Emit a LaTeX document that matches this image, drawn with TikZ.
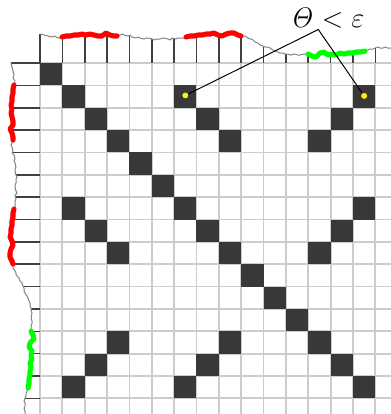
\documentclass[tikz,border=0pt]{standalone}
\usepackage{tikz}
\usetikzlibrary{positioning, calc}
\usepackage{xcolor}

\tikzset{
  cell/.style={fill=black!78},
  gridline/.style={gray!40, line width=0.9pt},
  sigtick/.style={black!75, line width=0.8pt},
  sigline/.style={gray, line width=0.5pt, line join=round},
  sigred/.style={red, line width=2.6pt, line join=round, line cap=round},
  siggreen/.style={green, line width=2.6pt, line join=round, line cap=round},
  ydot/.style={circle, fill=yellow, draw=black!80, line width=0.4pt, inner sep=0pt, minimum size=3.6pt},
  lbl/.style={font=\fontsize{15}{18}\selectfont}
}

% one series, drawn along the top axis (mirrored for the left one)
\newcommand{\drawsignal}{%
  \foreach \k/\a in {0/1.30, 1/1.16, 2/1.27, 3/1.32, 4/1.19, 5/1.08, 6/1.10, 7/1.24,
                     8/1.24, 9/1.22, 10/0.74, 11/0.40, 12/0.40, 13/0.39, 14/0.46, 15/0.67}
    \draw[sigtick] (\k,0) -- (\k,-\a);
  \begin{scope}[scale=0.04474]
    \draw[sigline] (0,-29) -- (4,-28) -- (8,-27) -- (12,-26) -- (15,-27) -- (18,-25) -- (22,-26)
      -- (26,-27) -- (30,-27) -- (34,-28) -- (38,-28) -- (42,-29) -- (46,-28) -- (50,-29)
      -- (54,-28) -- (58,-27) -- (62,-27) -- (66,-30) -- (70,-28) -- (74,-27) -- (77,-27)
      -- (80,-28) -- (82,-29) -- (84,-28) -- (88,-27) -- (90,-28) -- (92,-26) -- (96,-25)
      -- (98,-26) -- (100,-25) -- (104,-24) -- (106,-25) -- (108,-25) -- (112,-24) -- (114,-23)
      -- (116,-24) -- (120,-24) -- (122,-25) -- (124,-25) -- (128,-24) -- (130,-23) -- (132,-25)
      -- (136,-24) -- (138,-25) -- (140,-25) -- (144,-25) -- (146,-26) -- (150,-27) -- (154,-27)
      -- (158,-28) -- (162,-28) -- (166,-29) -- (170,-29) -- (174,-30) -- (178,-28) -- (182,-27)
      -- (186,-29) -- (190,-30) -- (194,-30) -- (198,-28) -- (201,-27) -- (205,-27) -- (208,-25)
      -- (210,-24) -- (212,-24) -- (215,-21) -- (218,-20) -- (220,-18) -- (223,-17) -- (225,-16)
      -- (228,-16) -- (230,-15) -- (233,-13) -- (235,-12) -- (238,-11) -- (240,-10) -- (243,-10)
      -- (245,-9) -- (248,-9) -- (250,-8) -- (255,-9) -- (258,-8) -- (260,-8) -- (264,-9)
      -- (268,-9) -- (272,-7) -- (276,-6) -- (280,-10) -- (284,-11) -- (288,-8) -- (292,-9)
      -- (296,-8) -- (300,-10) -- (304,-9) -- (308,-10) -- (312,-10) -- (316,-11) -- (320,-11)
      -- (325,-12) -- (328,-13) -- (330,-14) -- (333,-14) -- (335,-15) -- (338,-16) -- (340,-15)
      -- (343,-15) -- (345,-16) -- (348,-15) -- (351,-15);
    \draw[sigred] (22,-26) -- (26,-27) -- (30,-27) -- (34,-28) -- (38,-28) -- (42,-29) -- (46,-28)
      -- (50,-29) -- (54,-28) -- (58,-27) -- (62,-27) -- (66,-30) -- (70,-28) -- (74,-27) -- (77,-27);
    \draw[sigred] (146,-26) -- (150,-27) -- (154,-27) -- (158,-28) -- (162,-28) -- (166,-29)
      -- (170,-29) -- (174,-30) -- (178,-28) -- (182,-27) -- (186,-29) -- (190,-30) -- (194,-30)
      -- (198,-28) -- (201,-27);
    \draw[siggreen] (268,-9) -- (272,-7) -- (276,-6) -- (280,-10) -- (284,-11) -- (288,-8)
      -- (292,-9) -- (296,-8) -- (300,-10) -- (304,-9) -- (308,-10) -- (312,-10) -- (316,-11)
      -- (320,-11) -- (325,-12);
  \end{scope}}

\begin{document}
\begin{tikzpicture}[x=0.4cm, y=-0.4cm]
  \useasboundingbox (-1.79,-2.82) rectangle (15.70,15.70);

  % grid
  \foreach \i in {0,...,15} {
    \draw[gridline] (\i,0) -- (\i,15.7);
    \draw[gridline] (0,\i) -- (15.7,\i);
  }

  % recurrence cells
  \foreach \i in {0,...,14}
    \fill[cell] (\i,\i) rectangle ++(1,1);
  \foreach \c/\r in {6/1, 7/2, 8/3, 14/1, 13/2, 12/3, 1/6, 2/7, 3/8, 14/6, 13/7, 12/8,
                     8/12, 7/13, 6/14, 3/12, 2/13, 1/14}
    \fill[cell] (\c,\r) rectangle ++(1,1);

  % signals on both axes
  \drawsignal
  \begin{scope}[cm={0,-1,-1,0,(0,0)}]
    \drawsignal
  \end{scope}

  % threshold label
  \node[ydot] (dotL) at (6.5,1.45) {};
  \node[ydot] (dotR) at (14.5,1.47) {};
  \coordinate (apex) at (12.45,-1.5);
  \node[lbl, anchor=base] (theta) at (12.85,-1.6) {$\mathit{\Theta} < \varepsilon$};
  \draw[line width=0.5pt] (dotL) -- (apex) -- (dotR);
\end{tikzpicture}
\end{document}
